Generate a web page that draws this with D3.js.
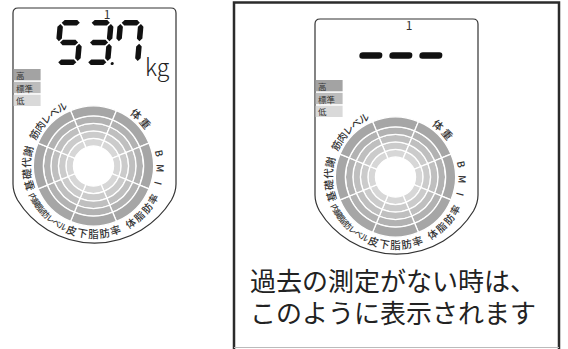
<!DOCTYPE html>
<html>
<head>
<meta charset="utf-8">
<script src="https://cdn.jsdelivr.net/npm/d3@7"></script>
<style>
  body { margin: 0; background: #fff; }
  text { font-family: 'Noto Sans CJK JP', 'Noto Sans', sans-serif; fill: #333; }
</style>
</head>
<body>
<svg id="chart" width="568" height="349"></svg>
<script>
// values
const userNo = '1'
const reading = ['5', '3', '7']
const emptyReading = ['-', '-', '-']
const unit = 'kg'
const levelNames = ['高', '標準', '低']
const ringLabels = ['体重', 'BMI', '体脂肪率', '皮下脂肪率', '内臓脂肪レベル', '基礎代謝', '筋肉レベル']
const labelAngles = [45, 92, 133, 180, 225, 268, 315]
const labelSteps = [11, 13, 9.4, 9.4, 6, 9.8, 8.4]
const labelSizes = [10.5, 10, 10, 10.5, 8, 10.5, 10]
const sectors = d3.range(8)
const bands = d3.range(5)
const captionLines = ['過去の測定がない時は、', 'このように表示されます']

// seven segment map
const segMap = {
  '5': ['a', 'f', 'g', 'c', 'd'],
  '3': ['a', 'b', 'g', 'c', 'd'],
  '7': ['a', 'b', 'c', 'f'],
  '-': ['g']
}

const svg = d3.select('#chart')

const pw = 163
const cx = 80.5, cy = 158
const labelR = 67.5

const radius = d3.scaleLinear().domain([0, 4, 5]).range([20, 50, 60])
const bandColor = d3.scaleLinear().domain([0, 4]).range(['#d7d7d7', '#a6a6a6'])
const levelColor = d3.scaleOrdinal().domain(levelNames).range(['#a3a3a3', '#bcbcbc', '#d9d9d9'])
const levelY = d3.scaleBand().domain(levelNames).range([61, 98]).paddingInner(0.12)
const digitX = d3.scaleLinear().domain([0, 1]).range([45, 75])

const dw = 26, dh = 45, t = 5.5, gap = 1.2

function hSeg(x0, x1, yc) {
  return [[x0, yc], [x0 + t / 2, yc - t / 2], [x1 - t / 2, yc - t / 2], [x1, yc], [x1 - t / 2, yc + t / 2], [x0 + t / 2, yc + t / 2]]
}
function vSeg(xc, y0, y1) {
  return [[xc, y0], [xc + t / 2, y0 + t / 2], [xc + t / 2, y1 - t / 2], [xc, y1], [xc - t / 2, y1 - t / 2], [xc - t / 2, y0 + t / 2]]
}
const segs = {
  a: hSeg(t / 2 + gap, dw - t / 2 - gap, t / 2),
  g: hSeg(t / 2 + gap, dw - t / 2 - gap, dh / 2),
  d: hSeg(t / 2 + gap, dw - t / 2 - gap, dh - t / 2),
  f: vSeg(t / 2, t / 2 + gap, dh / 2 - gap),
  b: vSeg(dw - t / 2, t / 2 + gap, dh / 2 - gap),
  e: vSeg(t / 2, dh / 2 + gap, dh - t / 2 - gap),
  c: vSeg(dw - t / 2, dh / 2 + gap, dh - t / 2 - gap)
}

function drawLabel(g, text, ang, step, size) {
  const chars = Array.from(text)
  const inward = ang > 100 && ang < 250
  const n = chars.length
  chars.forEach((ch, i) => {
    const off = (i - (n - 1) / 2) * step
    const a = inward ? ang - off : ang + off
    const rad = a * Math.PI / 180
    const x = cx + labelR * Math.sin(rad)
    const y = cy - labelR * Math.cos(rad)
    g.append('text')
      .attr('transform', `translate(${x},${y}) rotate(${inward ? a - 180 : a})`)
      .attr('text-anchor', 'middle')
      .attr('dominant-baseline', 'central')
      .attr('font-size', size)
      .attr('font-weight', 500)
      .text(ch)
  })
}

function drawPanel(ox, oy, digits, dashed) {
  const g = svg.append('g').attr('transform', `translate(${ox},${oy})`)

  // outline: straight sides, round top corners, wide arc at the bottom
  g.append('path')
    .attr('d', `M0,176 L0,5 Q0,0 5,0 L${pw - 5},0 Q${pw},0 ${pw},5 L${pw},176 Q${pw},183.7 158.5,192 A90.4,90.4 0 0 1 4.5,192 Q0,183.7 0,176 Z`)
    .attr('fill', '#fff')
    .attr('stroke', '#333')
    .attr('stroke-width', 1.2)

  g.append('text')
    .attr('x', 94).attr('y', 11)
    .attr('text-anchor', 'middle')
    .attr('font-size', 12)
    .text(userNo)

  // reading
  digits.forEach((dg, i) => {
    const dgG = g.append('g').attr('transform', `translate(${digitX(i)},12) skewX(-5)`)
    if (dashed) {
      dgG.append('line')
        .attr('x1', t / 2 + 2).attr('x2', dw - t / 2 - 2)
        .attr('y1', dh / 2 + 2).attr('y2', dh / 2 + 2)
        .attr('stroke', '#111')
        .attr('stroke-width', 6.5)
        .attr('stroke-linecap', 'round')
    } else {
      dgG.selectAll('polygon')
        .data(segMap[dg])
        .enter()
        .append('polygon')
        .attr('points', (s) => segs[s].map((p) => p.join(',')).join(' '))
        .attr('fill', '#111')
    }
    if (!dashed && i === 1) {
      dgG.append('circle').attr('cx', dw + 2).attr('cy', dh - 1.5).attr('r', 1.6).attr('fill', '#111')
    }
  })
  if (!dashed) {
    g.append('text')
      .attr('x', 132).attr('y', 68)
      .attr('font-family', 'Roboto, sans-serif')
      .attr('font-weight', 300)
      .attr('font-size', 23)
      .style('fill', '#222')
      .text(unit)
  }

  // legend
  levelNames.forEach((lv) => {
    g.append('rect')
      .attr('x', 0.6).attr('y', levelY(lv))
      .attr('width', 27).attr('height', levelY.bandwidth())
      .attr('fill', levelColor(lv))
    g.append('text')
      .attr('x', 3).attr('y', levelY(lv) + levelY.bandwidth() / 2)
      .attr('dominant-baseline', 'central')
      .attr('font-size', 8.5)
      .text(lv)
  })

  // ring
  const arc = d3.arc()
  const ring = g.append('g').attr('transform', `translate(${cx},${cy})`)
  bands.forEach((b) => {
    ring.selectAll(null)
      .data(sectors)
      .enter()
      .append('path')
      .attr('d', (s) => arc({
        innerRadius: radius(b),
        outerRadius: radius(b + 1),
        startAngle: (s * 45 - 22.5) * Math.PI / 180,
        endAngle: (s * 45 + 22.5) * Math.PI / 180
      }))
      .attr('fill', bandColor(b))
      .attr('stroke', '#fff')
      .attr('stroke-width', 1.3)
  })

  ringLabels.forEach((lb, i) => drawLabel(g, lb, labelAngles[i], labelSteps[i], labelSizes[i]))
}

drawPanel(13, 8, reading, false)
drawPanel(315, 19, emptyReading, true)

// frame around second panel
svg.append('path')
  .attr('d', 'M234,349 L234,2.5 L559,2.5 L559,349')
  .attr('fill', 'none')
  .attr('stroke', '#2b2b2b')
  .attr('stroke-width', 2.5)
svg.append('line')
  .attr('x1', 234).attr('x2', 559)
  .attr('y1', 347.5).attr('y2', 347.5)
  .attr('stroke', '#bbb')
  .attr('stroke-width', 1)

captionLines.forEach((ln, i) => {
  svg.append('text')
    .attr('x', 250).attr('y', 291 + i * 32)
    .attr('font-size', 26)
    .style('fill', '#222')
    .text(ln)
})
</script>
</body>
</html>
